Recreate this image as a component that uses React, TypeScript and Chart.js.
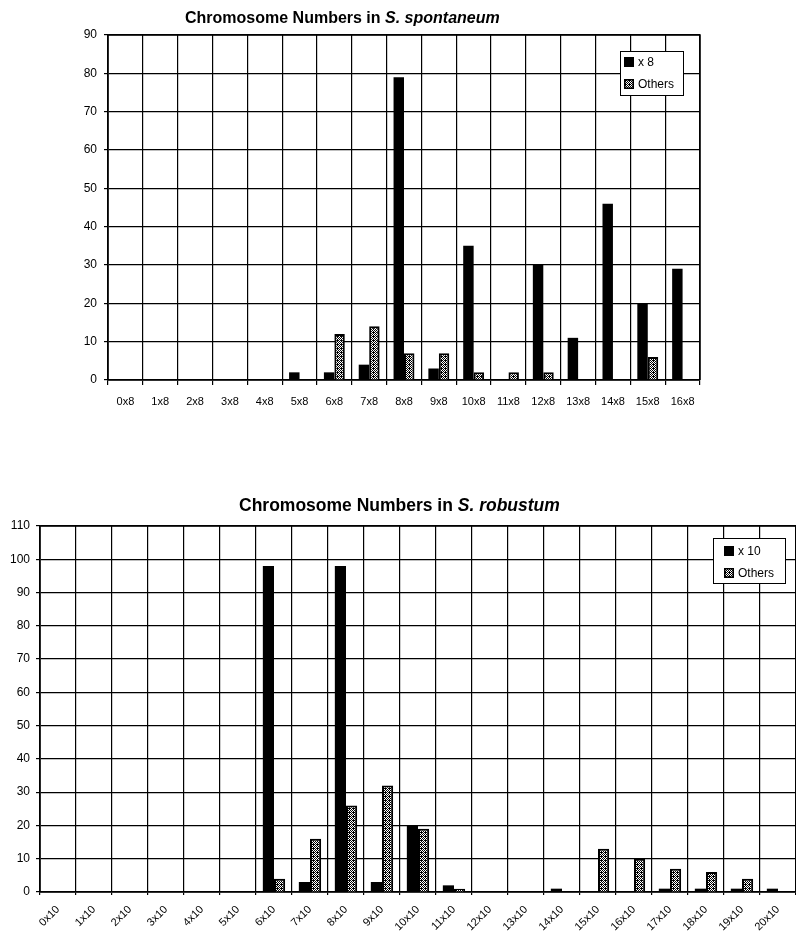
import React, { useEffect, useRef } from 'react';
import { Chart, registerables } from 'chart.js';

Chart.register(...registerables);

const FONT = '"Liberation Sans", Arial, Helvetica, sans-serif';

// ---- Data: S. spontaneum ----
const topCategories = ['0x8', '1x8', '2x8', '3x8', '4x8', '5x8', '6x8', '7x8', '8x8', '9x8', '10x8', '11x8', '12x8', '13x8', '14x8', '15x8', '16x8'];
const topSeriesLabels = ['x 8', 'Others'];
const topX8 = [0, 0, 0, 0, 0, 2, 2, 4, 79, 3, 35, 0, 30, 11, 46, 20, 29];
const topOthers = [0, 0, 0, 0, 0, 0, 12, 14, 7, 7, 2, 2, 2, 0, 0, 6, 0];
const topYMax = 90;
const topYStep = 10;

// ---- Data: S. robustum ----
const botCategories = ['0x10', '1x10', '2x10', '3x10', '4x10', '5x10', '6x10', '7x10', '8x10', '9x10', '10x10', '11x10', '12x10', '13x10', '14x10', '15x10', '16x10', '17x10', '18x10', '19x10', '20x10'];
const botSeriesLabels = ['x 10', 'Others'];
const botX10 = [0, 0, 0, 0, 0, 0, 98, 3, 98, 3, 20, 2, 0, 0, 1, 0, 0, 1, 1, 1, 1];
const botOthers = [0, 0, 0, 0, 0, 0, 4, 16, 26, 32, 19, 1, 0, 0, 0, 13, 10, 7, 6, 4, 0];
const botYMax = 110;
const botYStep = 10;

function makePattern(): CanvasPattern | string {
  const c = document.createElement('canvas');
  c.width = 4;
  c.height = 4;
  const g = c.getContext('2d');
  if (!g) return '#999';
  g.fillStyle = '#fff';
  g.fillRect(0, 0, 4, 4);
  g.fillStyle = '#000';
  [[0, 0], [2, 0], [1, 1], [3, 1], [0, 2], [2, 2], [1, 3], [3, 3], [1, 0]].forEach(([x, y]) => g.fillRect(x, y, 1, 1));
  return g.createPattern(c, 'repeat') || '#999';
}

const overlayPlugin = {
  id: 'overlay',
  afterDraw(chart: any, _args: any, opts: any) {
    const ctx: CanvasRenderingContext2D = chart.ctx;
    const ca = chart.chartArea;
    ctx.save();
    // plot frame (top and right)
    ctx.strokeStyle = '#000';
    ctx.lineWidth = 1.5;
    ctx.beginPath();
    ctx.moveTo(ca.left, ca.top);
    ctx.lineTo(ca.right, ca.top);
    ctx.lineTo(ca.right, ca.bottom);
    ctx.stroke();

    // title with italic species name
    ctx.fillStyle = '#000';
    ctx.textAlign = 'left';
    ctx.textBaseline = 'alphabetic';
    ctx.font = `bold ${opts.titleSize}px ${FONT}`;
    let x = opts.titleX;
    ctx.fillText(opts.titleMain, x, opts.titleY);
    x += ctx.measureText(opts.titleMain).width;
    ctx.font = `italic bold ${opts.titleSize}px ${FONT}`;
    ctx.fillText(opts.titleItalic, x, opts.titleY);

    // legend box
    const L = opts.legend;
    ctx.fillStyle = '#fff';
    ctx.fillRect(L.x, L.y, L.w, L.h);
    ctx.lineWidth = 1;
    ctx.strokeStyle = '#000';
    ctx.strokeRect(L.x + 0.5, L.y + 0.5, L.w, L.h);
    chart.data.datasets.forEach((ds: any, i: number) => {
      const cy = L.y + L.rows[i];
      const sx = L.x + L.swatchX;
      const s = L.swatch;
      ctx.fillStyle = ds.backgroundColor;
      ctx.fillRect(sx, cy - s / 2, s, s);
      ctx.lineWidth = 1.5;
      ctx.strokeStyle = '#000';
      ctx.strokeRect(sx + 0.75, cy - s / 2 + 0.75, s - 1.5, s - 1.5);
      ctx.fillStyle = '#000';
      ctx.font = `12px ${FONT}`;
      ctx.textBaseline = 'middle';
      ctx.fillText(ds.label, L.x + L.textX, cy + 1);
    });
    ctx.restore();
  },
};

type Cfg = {
  categories: string[];
  labels: string[];
  a: number[];
  b: number[];
  yMax: number;
  yStep: number;
  width: number;
  height: number;
  padTop: number;
  padRight: number;
  yAxisWidth: number;
  xAxisHeight: number;
  rotation: number;
  xTickPadding: number;
  xTickLength: number;
  yTickPadding: number;
  catPct: number;
  overlay: any;
};

function BarChart({ cfg }: { cfg: Cfg }) {
  const ref = useRef<HTMLCanvasElement>(null);
  useEffect(() => {
    if (!ref.current) return;
    const pattern = makePattern();
    const chart = new Chart(ref.current, {
      type: 'bar',
      data: {
        labels: cfg.categories,
        datasets: [
          {
            label: cfg.labels[0],
            data: cfg.a,
            backgroundColor: '#000',
            borderWidth: 0,
            categoryPercentage: cfg.catPct,
            barPercentage: 1,
          },
          {
            label: cfg.labels[1],
            data: cfg.b,
            backgroundColor: pattern as any,
            borderColor: '#000',
            borderWidth: 2,
            borderSkipped: 'bottom',
            categoryPercentage: cfg.catPct,
            barPercentage: 1,
          },
        ],
      },
      options: {
        responsive: false,
        animation: false,
        events: [],
        layout: { padding: { top: cfg.padTop, right: cfg.padRight, left: 0, bottom: 0 } },
        plugins: {
          legend: { display: false },
          title: { display: false },
          tooltip: { enabled: false },
          overlay: cfg.overlay,
        } as any,
        scales: {
          x: {
            grid: { color: '#000', lineWidth: 1.2, tickLength: cfg.xTickLength, offset: true, drawOnChartArea: true },
            border: { color: '#000', width: 1.8 },
            ticks: {
              color: '#000',
              font: { family: FONT, size: 11 },
              padding: cfg.xTickPadding,
              minRotation: cfg.rotation,
              maxRotation: cfg.rotation,
              autoSkip: false,
            },
            afterFit: (s: any) => {
              s.height = cfg.xAxisHeight;
            },
          },
          y: {
            min: 0,
            max: cfg.yMax,
            grid: { color: '#000', lineWidth: 1.2, tickLength: 4 },
            border: { color: '#000', width: 1.8 },
            ticks: {
              stepSize: cfg.yStep,
              color: '#000',
              font: { family: FONT, size: 12 },
              padding: cfg.yTickPadding,
            },
            afterFit: (s: any) => {
              s.width = cfg.yAxisWidth;
            },
          },
        },
      },
      plugins: [overlayPlugin],
    });
    return () => chart.destroy();
  }, [cfg]);
  return (
    <canvas
      ref={ref}
      width={cfg.width}
      height={cfg.height}
      style={{ display: 'block', width: cfg.width, height: cfg.height }}
    />
  );
}

const topCfg: Cfg = {
  categories: topCategories,
  labels: topSeriesLabels,
  a: topX8,
  b: topOthers,
  yMax: topYMax,
  yStep: topYStep,
  width: 796,
  height: 440,
  padTop: 35,
  padRight: 96,
  yAxisWidth: 108,
  xAxisHeight: 60,
  rotation: 0,
  xTickPadding: 10,
  xTickLength: 5,
  yTickPadding: 7,
  catPct: 0.6,
  overlay: {
    titleMain: 'Chromosome Numbers in ',
    titleItalic: 'S. spontaneum',
    titleSize: 16,
    titleX: 185,
    titleY: 23,
    legend: { x: 620, y: 51, w: 63, h: 44, swatchX: 4, swatch: 10, textX: 18, rows: [11, 33] },
  },
};

const botCfg: Cfg = {
  categories: botCategories,
  labels: botSeriesLabels,
  a: botX10,
  b: botOthers,
  yMax: botYMax,
  yStep: botYStep,
  width: 796,
  height: 497,
  padTop: 86,
  padRight: 0,
  yAxisWidth: 40,
  xAxisHeight: 45,
  rotation: 45,
  xTickPadding: 8,
  xTickLength: 3,
  yTickPadding: 6,
  catPct: 0.62,
  overlay: {
    titleMain: 'Chromosome Numbers in ',
    titleItalic: 'S. robustum',
    titleSize: 17.5,
    titleX: 239,
    titleY: 71,
    legend: { x: 713, y: 98, w: 72, h: 45, swatchX: 11, swatch: 10, textX: 25, rows: [13, 35] },
  },
};

export default function App() {
  return (
    <div style={{ position: 'absolute', left: 0, top: 0, width: 796, height: 937, background: '#fff', overflow: 'hidden' }}>
      <BarChart cfg={topCfg} />
      <BarChart cfg={botCfg} />
    </div>
  );
}
